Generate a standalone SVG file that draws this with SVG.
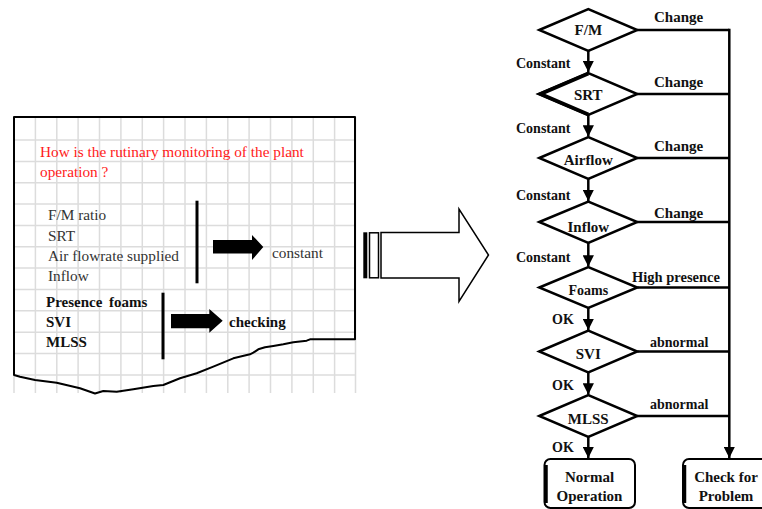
<svg xmlns="http://www.w3.org/2000/svg" width="762" height="509" viewBox="0 0 762 509">
<defs>
<style>
.grid line{stroke:#dcdcdc;stroke-width:1.5}
.t{font-family:"Liberation Serif","Times New Roman",serif;font-size:15.3px;fill:#333}
.tb{font-family:"Liberation Serif","Times New Roman",serif;font-size:15px;font-weight:bold;fill:#111}
.red{font-family:"Liberation Serif","Times New Roman",serif;font-size:15.3px;fill:#ff1a1a}
.f{font-family:"Liberation Serif","Times New Roman",serif;font-size:14px;font-weight:bold;fill:#111}
.n{font-size:15px}
.fc{text-anchor:middle}
.dia{fill:#fff;stroke:#000;stroke-width:2.5;stroke-linejoin:miter}
.box{fill:#fff;stroke:#000;stroke-width:2}
.ln{stroke:#000;stroke-width:2.5;fill:none}
</style>
<marker id="ah" viewBox="0 0 10 10" refX="10" refY="5" markerWidth="4.5" markerHeight="4.5" markerUnits="strokeWidth" orient="auto">
<path d="M0,0 L10,5 L0,10 Z" fill="#000"/>
</marker>
</defs>
<rect width="762" height="509" fill="#fff"/>

<!-- left panel: grid sheet -->
<g id="sheet">
<g class="grid">
<line x1="14" y1="117" x2="14" y2="393"/>
<line x1="35.4" y1="117" x2="35.4" y2="393"/>
<line x1="56.8" y1="117" x2="56.8" y2="393"/>
<line x1="78.1" y1="117" x2="78.1" y2="393"/>
<line x1="99.5" y1="117" x2="99.5" y2="393"/>
<line x1="120.9" y1="117" x2="120.9" y2="393"/>
<line x1="142.3" y1="117" x2="142.3" y2="393"/>
<line x1="163.6" y1="117" x2="163.6" y2="393"/>
<line x1="185" y1="117" x2="185" y2="393"/>
<line x1="206.4" y1="117" x2="206.4" y2="393"/>
<line x1="227.8" y1="117" x2="227.8" y2="393"/>
<line x1="249.1" y1="117" x2="249.1" y2="393"/>
<line x1="270.5" y1="117" x2="270.5" y2="393"/>
<line x1="291.9" y1="117" x2="291.9" y2="393"/>
<line x1="313.3" y1="117" x2="313.3" y2="393"/>
<line x1="334.6" y1="117" x2="334.6" y2="393"/>
<line x1="355.5" y1="117" x2="355.5" y2="393"/>
<line x1="14" y1="140" x2="356" y2="140"/>
<line x1="14" y1="161.4" x2="356" y2="161.4"/>
<line x1="14" y1="182.7" x2="356" y2="182.7"/>
<line x1="14" y1="204.1" x2="356" y2="204.1"/>
<line x1="14" y1="225.4" x2="356" y2="225.4"/>
<line x1="14" y1="246.8" x2="356" y2="246.8"/>
<line x1="14" y1="268.1" x2="356" y2="268.1"/>
<line x1="14" y1="289.5" x2="356" y2="289.5"/>
<line x1="14" y1="310.8" x2="356" y2="310.8"/>
<line x1="14" y1="332.2" x2="356" y2="332.2"/>
<line x1="14" y1="353.5" x2="356" y2="353.5"/>
<line x1="14" y1="374.9" x2="356" y2="374.9"/>
</g>
<path d="M14,375 V117 H355 V339.3 H310 L306.7,340.7 L293.3,342.3 L283.3,344.3 L273.3,346 L265,347.3 L258.3,349.3 L253.3,352.7 L250,354.3 L233.3,358.3 L213.3,366.7 L196.7,373.3 L180,378.3 L163.3,385 L153.3,386 L133.3,389.3 L116.7,391.7 L103.3,391 L95,393.5 L80,388.3 L56.7,382.7 L35,380 L20,376.7 Z" fill="none" stroke="#000" stroke-width="2" stroke-linejoin="round"/>
<text class="red" x="40" y="157">How is the rutinary monitoring of the plant</text>
<text class="red" x="40" y="177">operation ?</text>
<text class="t" x="48" y="220">F/M ratio</text>
<text class="t" x="48" y="241">SRT</text>
<text class="t" x="48" y="261">Air flowrate supplied</text>
<text class="t" x="48" y="281">Inflow</text>
<line x1="197" y1="200.7" x2="197" y2="283.3" stroke="#000" stroke-width="3"/>
<polygon points="213,240 252,240 252,235 263.3,247 252,260 252,253.5 213,253.5" fill="#000"/>
<text class="t" x="272" y="258">constant</text>
<text class="tb" x="46" y="307" style="word-spacing:3px">Presence foams</text>
<text class="tb" x="46" y="327">SVI</text>
<text class="tb" x="46" y="347">MLSS</text>
<line x1="163" y1="292.7" x2="163" y2="359.3" stroke="#000" stroke-width="3"/>
<polygon points="171,314 209.3,314 209.3,309 222.7,320.7 209.3,332.7 209.3,328.3 171,328.3" fill="#000"/>
<text class="tb" x="229" y="327">checking</text>
</g>

<!-- big hollow arrow -->
<g id="bigarrow">
<rect x="363.3" y="232.3" width="4" height="46" fill="#000"/>
<rect x="369.5" y="232.8" width="9" height="45" fill="#fff" stroke="#000" stroke-width="1.5"/>
<polygon points="381,232.5 459,232.5 459,209 488.5,255 459,301.5 459,278 381,278" fill="#fff" stroke="#000" stroke-width="1.5" stroke-linejoin="miter"/>
</g>

<!-- connectors -->
<g id="connectors">
<line class="ln" x1="588.3" y1="51" x2="588.3" y2="72" marker-end="url(#ah)"/>
<line class="ln" x1="588.3" y1="115" x2="588.3" y2="136.5" marker-end="url(#ah)"/>
<line class="ln" x1="588.3" y1="179" x2="588.3" y2="201" marker-end="url(#ah)"/>
<line class="ln" x1="588.3" y1="243" x2="588.3" y2="266.5" marker-end="url(#ah)"/>
<line class="ln" x1="588.3" y1="308" x2="588.3" y2="330" marker-end="url(#ah)"/>
<line class="ln" x1="588.3" y1="372.5" x2="588.3" y2="394.5" marker-end="url(#ah)"/>
<line class="ln" x1="588.3" y1="437" x2="588.3" y2="458" marker-end="url(#ah)"/>
<line class="ln" x1="637.3" y1="30" x2="729.3" y2="30"/>
<line class="ln" x1="637.3" y1="94" x2="729.3" y2="94"/>
<line class="ln" x1="637.3" y1="158" x2="729.3" y2="158"/>
<line class="ln" x1="637.3" y1="222" x2="729.3" y2="222"/>
<line class="ln" x1="637.3" y1="287.5" x2="729.3" y2="287.5"/>
<line class="ln" x1="637.3" y1="351.5" x2="729.3" y2="351.5"/>
<line class="ln" x1="637.3" y1="416" x2="729.3" y2="416"/>
<line class="ln" x1="729.3" y1="28.8" x2="729.3" y2="458" marker-end="url(#ah)"/>
<text class="f" x="654" y="22" style="font-size:15px">Change</text>
<text class="f" x="654" y="87" style="font-size:15px">Change</text>
<text class="f" x="654" y="151" style="font-size:15px">Change</text>
<text class="f" x="654" y="218" style="font-size:15px">Change</text>
<text class="f" x="632" y="282" style="font-size:14.5px">High presence</text>
<text class="f" x="650" y="347">abnormal</text>
<text class="f" x="650" y="409">abnormal</text>
<text class="f" x="516" y="68">Constant</text>
<text class="f" x="516" y="133">Constant</text>
<text class="f" x="516" y="200">Constant</text>
<text class="f" x="516" y="262">Constant</text>
<text class="f" x="552" y="324">OK</text>
<text class="f" x="552" y="390">OK</text>
<text class="f" x="552" y="452">OK</text>
</g>

<!-- decision nodes -->
<g id="node-fm">
<polygon class="dia" points="539.3,30 588.3,9 637.3,30 588.3,51"/>
<text class="f n fc" x="588.3" y="35">F/M</text>
</g>
<g id="node-srt">
<polygon class="dia" points="539.3,94 588.3,73 637.3,94 588.3,115"/>
<path d="M588.3,73.5 L540.5,94 L588.3,114.5" fill="none" stroke="#000" stroke-width="4"/>
<text class="f n fc" x="588.3" y="100">SRT</text>
</g>
<g id="node-airflow">
<polygon class="dia" points="539.3,158 588.3,137 637.3,158 588.3,179"/>
<text class="f n fc" x="588.3" y="165">Airflow</text>
</g>
<g id="node-inflow">
<polygon class="dia" points="539.3,222 588.3,201.5 637.3,222 588.3,243"/>
<text class="f n fc" x="588.3" y="232">Inflow</text>
</g>
<g id="node-foams">
<polygon class="dia" points="539.3,287.5 588.3,267 637.3,287.5 588.3,308"/>
<text class="f fc" x="588.3" y="295">Foams</text>
</g>
<g id="node-svi">
<polygon class="dia" points="539.3,351.5 588.3,330.5 637.3,351.5 588.3,372.5"/>
<text class="f n fc" x="588.3" y="359">SVI</text>
</g>
<g id="node-mlss">
<polygon class="dia" points="539.3,416 588.3,395 637.3,416 588.3,437"/>
<text class="f n fc" x="588.3" y="424">MLSS</text>
</g>

<!-- terminal nodes -->
<g id="node-normal">
<rect class="box" x="544.5" y="459" width="90.5" height="49" rx="6"/>
<path d="M546,465 V503" stroke="#000" stroke-width="3.5"/>
<text class="f n fc" x="589.5" y="482">Normal</text>
<text class="f n fc" x="589.5" y="501">Operation</text>
</g>
<g id="node-check">
<rect class="box" x="683" y="459" width="88" height="49" rx="6"/>
<path d="M684.5,465 V503" stroke="#000" stroke-width="3.5"/>
<text class="f n fc" x="726" y="482">Check for</text>
<text class="f n fc" x="726" y="501">Problem</text>
</g>
</svg>
